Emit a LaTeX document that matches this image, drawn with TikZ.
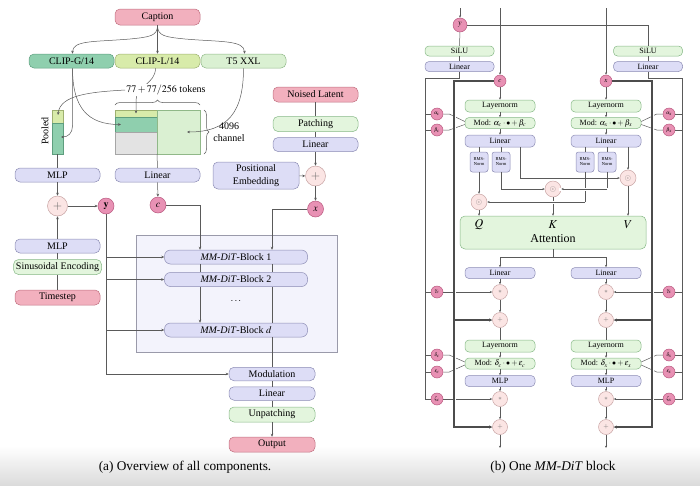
\documentclass[tikz,border=0pt]{standalone}
\usepackage{mathptmx}
\usepackage[no-math]{fontspec}
\setmainfont{Liberation Serif}
\usetikzlibrary{arrows.meta,decorations.pathreplacing,calc}
\newcommand\myfs[2]{\fontsize{#1}{#2}\selectfont}
\definecolor{lavF}{HTML}{DDDDF6}
\definecolor{lavD}{HTML}{8C8CB4}
\definecolor{grnF}{HTML}{E3F5DD}
\definecolor{grnD}{HTML}{86B886}
\definecolor{pnkF}{HTML}{F2B0BE}
\definecolor{pnkD}{HTML}{C07080}
\definecolor{cpF}{HTML}{E891B4}
\definecolor{cpD}{HTML}{B8587E}
\definecolor{clF}{HTML}{FBE5E4}
\definecolor{clD}{HTML}{C8A4A4}
\definecolor{cgF}{HTML}{8FCFAE}
\definecolor{cgD}{HTML}{5E9E7E}
\definecolor{ylF}{HTML}{D8EBAA}
\definecolor{ylD}{HTML}{9EB070}
\definecolor{tfF}{HTML}{DAF0D2}
\definecolor{tfD}{HTML}{90B888}
\definecolor{contF}{HTML}{F3F3FC}
\definecolor{contD}{HTML}{9A9AAA}
\definecolor{lineC}{HTML}{5A5A5A}
\begin{document}
\begin{tikzpicture}[x=1pt,y=-1pt,
  cn/.style={draw=lineC, line width=0.5pt},
  arr/.style={cn, -{Stealth[length=3pt,width=2.6pt]}},
  sarr/.style={cn, -{Stealth[length=2.4pt,width=2.1pt]}},
  thk/.style={draw=black!70, line width=1.1pt},
  thkarr/.style={thk, -{Stealth[length=3pt,width=3pt]}},
  halo/.style={draw=white, line width=3pt},
  bx/.style={rounded corners=5pt, inner sep=0pt, line width=0.5pt, align=center},
  lav/.style={bx, draw=lavD, fill=lavF},
  grn/.style={bx, draw=grnD, fill=grnF},
  pnk/.style={bx, draw=pnkD, fill=pnkF},
  lbox/.style={minimum width=85pt, minimum height=14pt, font=\myfs{10}{13}},
  rbox/.style={minimum width=70pt, minimum height=11pt, rounded corners=4pt, font=\myfs{8}{9}},
  pcirc/.style={circle, draw=cpD, fill=cpF, inner sep=0pt, line width=0.5pt},
  lcirc/.style={circle, draw=clD, fill=clF, inner sep=0pt, line width=0.5pt, text=black!60},
]
\useasboundingbox (0,0) rectangle (700,485);
\shade[top color=white, bottom color=black!14] (0,446) rectangle (700,485);

%================ LEFT PANEL =================
\node[pnk,lbox,minimum height=16pt] (caption) at (157.5,17) {Caption};
\node[bx,lbox,draw=cgD,fill=cgF] (clipg) at (71.5,61) {CLIP-G/14};
\node[bx,lbox,draw=ylD,fill=ylF] (clipl) at (157.5,61) {CLIP-L/14};
\node[bx,lbox,draw=tfD,fill=tfF] (t5) at (243.5,61) {T5 XXL};

\draw[arr] (caption.south) .. controls (157.5,36) and (150,37) .. (130,39)
   .. controls (95,42) and (72.5,40) .. ([xshift=1pt]clipg.north);
\draw[arr] (caption.south) .. controls (157.5,36) and (165,37) .. (185,39)
   .. controls (220,42) and (244.5,40) .. ([xshift=1pt]t5.north);
\draw[arr] (caption.south) -- (clipl.north);

% token matrix
\draw[draw=ylD, fill=ylF, line width=0.4pt] (115,110) rectangle (157,117);
\draw[draw=cgD, fill=cgF, line width=0.4pt] (115,117) rectangle (157,132);
\draw[draw=black!35, fill=black!11, line width=0.4pt] (115,132) rectangle (157,154);
\draw[draw=tfD, fill=tfF, line width=0.4pt] (157,110) rectangle (200,154);
\coordinate (mtop) at (136,113.5);
\coordinate (mgreen) at (121,124.5);
\coordinate (mt5) at (187,132);
\coordinate (mbot) at (157,154);
% pooled
\draw[draw=ylD, fill=ylF, line width=0.4pt] (52,110) rectangle (63,123);
\draw[draw=cgD, fill=cgF, line width=0.4pt] (52,123) rectangle (63,154);
\coordinate (ptop) at (58,115);
\coordinate (pbot) at (61,137);
\coordinate (pbase) at (57.5,154);
\node[rotate=90, font=\myfs{10}{12}] (plbl) at (45,131) {Pooled};

\draw[arr] ([xshift=-2pt]clipl.south) .. controls (155.5,84) and (136,86) .. (136,100) -- (mtop);
\node[fill=white, inner sep=1pt, font=\myfs{10}{12}] (tok) at (166,90) {$77+77/256$ tokens};
\draw[arr] (tok.west) .. controls (90,92) and (60,95) .. (ptop);
\draw[arr] ([xshift=1pt]clipg.south) -- (72.5,126) .. controls (72.5,133) and (68,137) .. (pbot);
\draw[arr] ([xshift=1pt]clipg.south) .. controls (72.5,108) and (88,124.5) .. (mgreen);
\draw[cn, decorate, decoration={brace, amplitude=5pt}] (115,105) -- (200,105);
\draw[cn, decorate, decoration={brace, amplitude=5pt}] (204,110) -- (204,154);
\draw[arr] (t5.south) .. controls (243.5,112) and (228,132) .. (mt5);
\node[align=center, font=\myfs{10}{12}] (chan) at (229,132) {4096\\channel};

\node[lav,lbox] (mlp1) at (57.5,175) {MLP};
\node[lav,lbox] (lin1) at (157.5,175) {Linear};
\node[lav,lbox,minimum height=27pt,minimum width=86pt] (pos) at (256,175.5) {Positional\\Embedding};
\node[pnk,lbox,minimum height=15pt] (noised) at (315.5,94.5) {Noised Latent};
\node[grn,lbox,minimum height=15pt] (patch) at (315.5,124) {Patching};
\node[lav,lbox] (linr) at (315.5,144.5) {Linear};
\node[lcirc,minimum size=20pt,font=\myfs{12}{12}] (plusr) at (315.5,176) {$+$};
\node[pcirc,minimum size=16pt,font=\myfs{10}{10}] (xc) at (315.5,209) {$x$};
\node[lcirc,minimum size=20pt,font=\myfs{12}{12}] (plusl) at (57.5,206) {$+$};
\node[pcirc,minimum size=16pt,font=\myfs{10}{10}] (yc) at (106,206) {$\mathbf{y}$};
\node[pcirc,minimum size=16pt,font=\myfs{10}{10}] (cc) at (158,205) {$c$};
\node[lav,lbox] (mlp2) at (57.5,246) {MLP};
\node[grn,lbox,minimum width=88pt,minimum height=15pt] (sin) at (57.5,267) {Sinusoidal Encoding};
\node[pnk,lbox,minimum height=15pt] (time) at (57.5,297.5) {Timestep};

\draw[draw=contD, fill=contF, line width=0.5pt] (136,235) rectangle (337,352);
\node[lav,lbox,minimum width=143pt,rounded corners=6pt] (b1) at (236,257) {\textit{MM-DiT}-Block 1};
\node[lav,lbox,minimum width=143pt,rounded corners=6pt] (b2) at (236,279.5) {\textit{MM-DiT}-Block 2};
\node[font=\myfs{10}{10}] (dots) at (236,301) {$\cdots$};
\node[lav,lbox,minimum width=143pt,rounded corners=6pt] (bd) at (236,330) {\textit{MM-DiT}-Block $d$};

\node[lav,lbox,minimum width=86pt,minimum height=13.5pt] (modu) at (272,374) {Modulation};
\node[lav,lbox,minimum width=86pt,minimum height=13.5pt] (lino) at (272,393.5) {Linear};
\node[grn,lbox,minimum width=86pt,minimum height=15pt] (unp) at (272,414.5) {Unpatching};
\node[pnk,lbox,minimum width=86pt,minimum height=15pt] (outp) at (272,444.5) {Output};

\draw[cn] (pbase) -- (mlp1.north);
\draw[cn] (mbot) -- (lin1.north);
\draw[arr] (mlp1) -- (plusl);
\draw[arr] (mlp2) -- (plusl);
\draw[arr] (plusl) -- (yc);
\draw[arr] (lin1) -- (cc);
\draw[cn] (time) -- (sin);
\draw[cn] (sin) -- (mlp2);
\draw[cn] (noised) -- (patch);
\draw[cn] (patch) -- (linr);
\draw[arr] (linr) -- (plusr);
\draw[arr] (pos) -- (plusr);
\draw[arr] (plusr) -- (xc);
\draw[arr] (cc.east) -| ([xshift=-36pt]b1.north);
\draw[arr] (xc.west) -| ([xshift=36pt]b1.north);
\draw[cn] ([xshift=-36pt]b1.south) -- ([xshift=-36pt]b2.north);
\draw[cn] ([xshift=36pt]b1.south) -- ([xshift=36pt]b2.north);
\draw[arr] ([xshift=-36pt]b2.south) -- ([xshift=-36pt]bd.north);
\draw[cn] ([xshift=36pt]b2.south) -- ([xshift=36pt]bd.north);
\draw[cn] ([xshift=36pt]bd.south) -- (modu.north);
\draw[arr] (yc.south) |- (modu.west);
\draw[arr] (yc.south |- b1.west) -- (b1.west);
\draw[arr] (yc.south |- b2.west) -- (b2.west);
\draw[arr] (yc.south |- bd.west) -- (bd.west);
\draw[cn] (modu) -- (lino);
\draw[cn] (lino) -- (unp);
\draw[arr] (unp) -- (outp);

%================ RIGHT PANEL =================
\node[pcirc,minimum size=14pt,font=\myfs{8}{8}] (yr) at (460,25) {$y$};
\coordinate (ytop) at (460,8);
\coordinate (ctop) at (500,8);
\coordinate (xtop) at (606,8);
\node[grn,rbox,minimum width=69pt,minimum height=10pt] (siluL) at (459.5,51) {SiLU};
\node[lav,rbox,minimum width=69pt,minimum height=10pt] (linL) at (459.5,66.5) {Linear};
\node[grn,rbox,minimum width=69pt,minimum height=10pt] (siluR) at (648,51) {SiLU};
\node[lav,rbox,minimum width=69pt,minimum height=10pt] (linRt) at (648,66.5) {Linear};
\node[pcirc,minimum size=12pt,font=\myfs{7}{7}] (cr) at (500,81) {$c$};
\node[pcirc,minimum size=12pt,font=\myfs{7}{7}] (xr) at (606,81) {$x$};
\draw[sarr] (ytop) -- (yr);
\draw[cn] (yr) -- (siluL);
\draw[cn] (yr.east) -| (siluR.north);
\draw[sarr] (ctop) -- (cr);
\draw[sarr] (xtop) -- (xr);
\draw[cn] (siluL) -- (linL);
\draw[cn] (siluR) -- (linRt);

% columns
\node[grn,rbox,minimum height=12pt] (lnL) at (500,106) {Layernorm};
\node[grn,rbox] (modL) at (500,123) {Mod: $\alpha_c\cdot\bullet+\beta_c$};
\node[lav,rbox,minimum height=12pt] (lnaL) at (500,141) {Linear};
\node[grn,rbox,minimum height=12pt] (lnR) at (606,106) {Layernorm};
\node[grn,rbox] (modR) at (606,123) {Mod: $\alpha_x\cdot\bullet+\beta_x$};
\node[lav,rbox,minimum height=12pt] (lnaR) at (606,141) {Linear};

\tikzset{rms/.style={lav,bx,rounded corners=2.5pt,minimum width=18pt,minimum height=20pt,font=\myfs{4.5}{5}}}
\node[rms] (rms1) at (479,162) {RMS-\\Norm};
\node[rms] (rms2) at (501,162) {RMS-\\Norm};
\node[rms] (rms3) at (585,162) {RMS-\\Norm};
\node[rms] (rms4) at (607,162) {RMS-\\Norm};

\node[lcirc,minimum size=16pt,font=\myfs{8}{8}] (qo) at (479,202) {$\odot$};
\node[lcirc,minimum size=16pt,font=\myfs{8}{8}] (ko) at (553,189) {$\odot$};
\node[lcirc,minimum size=16pt,font=\myfs{8}{8}] (vo) at (628,178) {$\odot$};

\node[grn,bx,minimum width=186pt,minimum height=33pt] (att) at (553,232.5) {};
\node[font=\myfs{12}{12}] (ql) at (479,225) {$Q$};
\node[font=\myfs{12}{12}] (kl) at (553,225) {$K$};
\node[font=\myfs{12}{12}] (vl) at (628,225) {$V$};
\node[font=\myfs{12}{12}] (attl) at (553,238.5) {Attention};

\draw[sarr] (cr) -- (lnL);
\draw[sarr] (lnL) -- (modL);
\draw[sarr] (modL) -- (lnaL);
\draw[sarr] (xr) -- (lnR);
\draw[sarr] (lnR) -- (modR);
\draw[sarr] (modR) -- (lnaR);
\draw[cn] (rms1.north |- lnaL.south) -- (rms1.north);
\draw[cn] (rms2.north |- lnaL.south) -- (rms2.north);
\draw[cn] (rms3.north |- lnaR.south) -- (rms3.north);
\draw[cn] (rms4.north |- lnaR.south) -- (rms4.north);
\coordinate (cvx) at (520,150);
\draw[sarr] (cvx |- lnaL.south) |- (vo.west);
\draw[sarr] (vo.north |- lnaR.south) -- (vo.north);
\draw[sarr] (rms1) -- (qo);
\draw[sarr] (rms2.south) |- (ko.west);
\draw[sarr] (ko.south) -- (ko.south |- att.north);
\draw[cn] (rms3.south) -- (rms3.south |- qo.east);
\draw[halo] ([xshift=-1pt]rms3.south |- qo.east) -- ([xshift=2pt]qo.east);
\draw[sarr] (rms3.south |- qo.east) -- (qo.east);
\draw[cn] (rms4.south) -- (rms4.south |- ko.east);
\draw[halo] ([xshift=1pt]rms4.south |- ko.east) -- ([xshift=-2pt]ko.east);
\draw[sarr] (rms4.south |- ko.east) -- (ko.east);
\draw[sarr] (qo.south) -- (qo.south |- att.north);
\draw[sarr] (vo.south) -- (vo.south |- att.north);

% lower column
\node[lav,rbox] (lbL) at (500,273) {Linear};
\node[lav,rbox] (lbR) at (606,273) {Linear};
\tikzset{opc/.style={lcirc,minimum size=15pt,font=\myfs{7}{7}}}
\node[opc] (s1L) at (500,292) {$\ast$};
\node[opc] (p1L) at (500,320) {$+$};
\node[opc] (s1R) at (606,292) {$\ast$};
\node[opc] (p1R) at (606,320) {$+$};
\node[grn,rbox,minimum height=12pt] (ln2L) at (500,346) {Layernorm};
\node[grn,rbox] (mod2L) at (500,363.5) {Mod: $\delta_c\cdot\bullet+\epsilon_c$};
\node[lav,rbox] (mlpL) at (500,381) {MLP};
\node[grn,rbox,minimum height=12pt] (ln2R) at (606,346) {Layernorm};
\node[grn,rbox] (mod2R) at (606,363.5) {Mod: $\delta_x\cdot\bullet+\epsilon_x$};
\node[lav,rbox] (mlpR) at (606,381) {MLP};
\node[opc] (s2L) at (500,399) {$\ast$};
\node[opc] (p2L) at (500,427) {$+$};
\node[opc] (s2R) at (606,399) {$\ast$};
\node[opc] (p2R) at (606,427) {$+$};
\coordinate (endL) at (500,448);
\coordinate (endR) at (606,448);

\coordinate (asp) at (553,257);
\draw[cn] (att.south) -- (asp);
\draw[sarr] (asp) -| (lbL.north);
\draw[sarr] (asp) -| (lbR.north);
\foreach \s in {L,R}{
  \draw[sarr] (lb\s) -- (s1\s);
  \draw[sarr] (s1\s) -- (p1\s);
  \draw[cn] (p1\s) -- (ln2\s);
  \draw[sarr] (ln2\s) -- (mod2\s);
  \draw[sarr] (mod2\s) -- (mlp\s);
  \draw[sarr] (mlp\s) -- (s2\s);
  \draw[sarr] (s2\s) -- (p2\s);
  \draw[sarr] (p2\s) -- (end\s);
}

% modulation parameter circles
\tikzset{mpc/.style={pcirc,minimum size=12pt,font=\myfs{5}{5}}}
\node[mpc] (aL) at (437,114) {$\alpha_c$};
\node[mpc] (bL) at (437,130) {$\beta_c$};
\node[mpc] (gL) at (437,292) {$\gamma_c$};
\node[mpc] (dL) at (437,355) {$\delta_c$};
\node[mpc] (eL) at (437,372) {$\epsilon_c$};
\node[mpc] (zL) at (437,399) {$\zeta_c$};
\node[mpc] (aR) at (669,114) {$\alpha_x$};
\node[mpc] (bR) at (669,130) {$\beta_x$};
\node[mpc] (gR) at (669,292) {$\gamma_x$};
\node[mpc] (dR) at (669,355) {$\delta_x$};
\node[mpc] (eR) at (669,372) {$\epsilon_x$};
\node[mpc] (zR) at (669,399) {$\zeta_x$};
\coordinate (vlL) at (425,78);
\coordinate (vlR) at (682,78);
\draw[cn] (linL.south) |- (vlL) |- (zL.west);
\draw[cn] (linRt.south) |- (vlR) |- (zR.east);
\foreach \c in {aL,bL,gL,dL,eL}{ \draw[cn] (\c.west -| vlL) -- (\c.west); }
\foreach \c in {aR,bR,gR,dR,eR}{ \draw[cn] (\c.east -| vlR) -- (\c.east); }
\draw[cn] (aL.east) -- ++(6,0) -- ([yshift=1.5pt]modL.west);
\draw[cn] (bL.east) -- ++(6,0) -- ([yshift=-1.5pt]modL.west);
\draw[cn] (dL.east) -- ++(6,0) -- ([yshift=1.5pt]mod2L.west);
\draw[cn] (eL.east) -- ++(6,0) -- ([yshift=-1.5pt]mod2L.west);
\draw[cn] (aR.west) -- ++(-6,0) -- ([yshift=1.5pt]modR.east);
\draw[cn] (bR.west) -- ++(-6,0) -- ([yshift=-1.5pt]modR.east);
\draw[cn] (dR.west) -- ++(-6,0) -- ([yshift=1.5pt]mod2R.east);
\draw[cn] (eR.west) -- ++(-6,0) -- ([yshift=-1.5pt]mod2R.east);
\draw[sarr] (gL.east) -- (s1L.west);
\draw[sarr] (zL.east) -- (s2L.west);
\draw[sarr] (gR.west) -- (s1R.east);
\draw[sarr] (zR.west) -- (s2R.east);

% residual paths
\coordinate (rl) at (454,81);
\coordinate (rr) at (652,81);
\draw[halo] (rl) -- (rl |- p2L.west);
\draw[halo] (rr) -- (rr |- p2R.east);
\draw[thkarr] (cr.west) -- (rl) |- (p2L.west);
\draw[thkarr] (rl |- p1L.west) -- (p1L.west);
\draw[thkarr] (xr.east) -- (rr) |- (p2R.east);
\draw[thkarr] (rr |- p1R.east) -- (p1R.east);

% captions
\node[font=\myfs{13.3}{14}] (capa) at (185,467) {(a) Overview of all components.};
\node[font=\myfs{13.3}{14}] (capb) at (553,467) {(b) One \textit{MM-DiT} block};
\end{tikzpicture}
\end{document}
